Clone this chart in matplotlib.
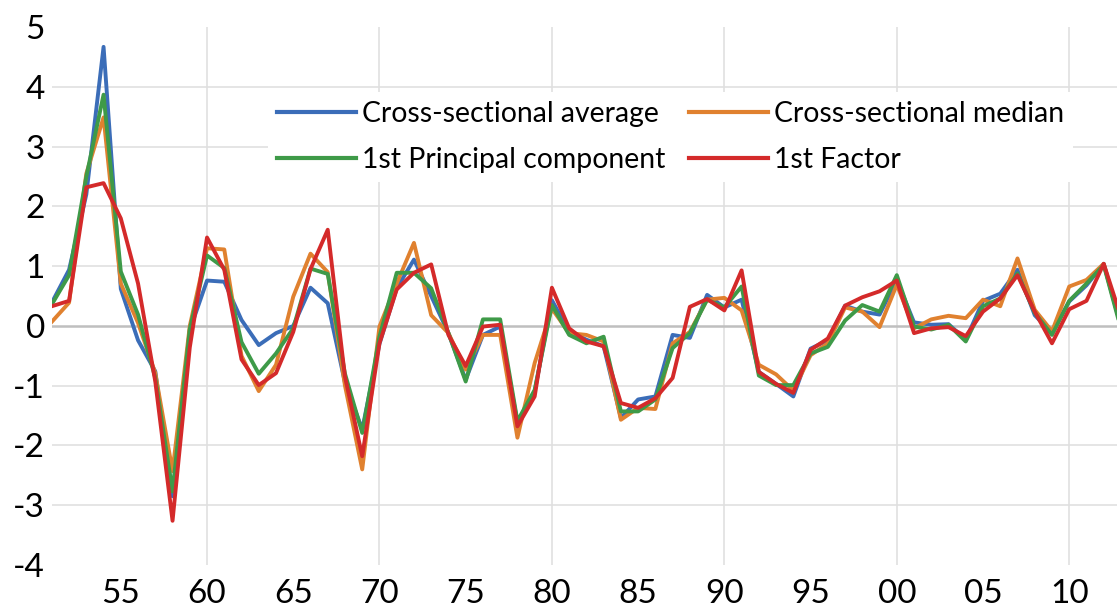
import numpy as np
import matplotlib
matplotlib.use('Agg')
import matplotlib.pyplot as plt

plt.rcParams['font.family'] = ['Lato', 'DejaVu Sans']
plt.rcParams['axes.unicode_minus'] = False

years = np.arange(1951, 2014)

# cross-sectional average
avg = [0.39, 0.94, 2.2, 4.67, 0.62, -0.24, -0.76, -2.85, -0.07, 0.76,
       0.74, 0.1, -0.32, -0.12, 0.0, 0.64, 0.38, -0.95, -1.73, -0.3,
       0.63, 1.11, 0.5, -0.12, -0.9, -0.15, -0.01, -1.62, -1.1, 0.43,
       -0.09, -0.23, -0.34, -1.54, -1.23, -1.18, -0.15, -0.2, 0.52, 0.31,
       0.44, -0.77, -0.97, -1.18, -0.38, -0.24, 0.34, 0.24, 0.19, 0.77,
       0.06, 0.02, 0.03, -0.23, 0.42, 0.54, 0.94, 0.18, -0.12, 0.41,
       0.68, 1.04, 0.0]

# cross-sectional median
med = [0.07, 0.39, 2.55, 3.49, 0.71, 0.05, -0.79, -2.43, 0.0, 1.3,
       1.28, -0.5, -1.09, -0.65, 0.49, 1.21, 0.9, -1.0, -2.4, -0.01,
       0.71, 1.39, 0.18, -0.12, -0.73, -0.15, -0.15, -1.87, -0.62, 0.29,
       -0.12, -0.15, -0.26, -1.57, -1.37, -1.39, -0.29, -0.1, 0.44, 0.47,
       0.26, -0.65, -0.81, -1.08, -0.49, -0.29, 0.31, 0.24, -0.02, 0.69,
       -0.04, 0.11, 0.17, 0.13, 0.44, 0.33, 1.13, 0.27, -0.09, 0.66,
       0.77, 1.04, 0.0]

# 1st principal component
pc = [0.36, 0.85, 2.5, 3.87, 0.91, 0.19, -0.87, -2.77, -0.05, 1.18,
      0.97, -0.27, -0.8, -0.46, -0.04, 0.96, 0.87, -0.8, -1.79, -0.18,
      0.89, 0.89, 0.63, -0.12, -0.93, 0.11, 0.11, -1.59, -1.07, 0.35,
      -0.15, -0.29, -0.18, -1.43, -1.43, -1.23, -0.37, -0.12, 0.44, 0.31,
      0.66, -0.83, -0.99, -0.99, -0.46, -0.35, 0.09, 0.35, 0.24, 0.85,
      -0.01, -0.06, 0.02, -0.26, 0.33, 0.46, 0.88, 0.22, -0.15, 0.42,
      0.71, 1.02, -0.05]

# 1st factor
fac = [0.33, 0.42, 2.32, 2.39, 1.8, 0.71, -0.93, -3.26, -0.36, 1.48,
       0.94, -0.56, -0.99, -0.79, -0.1, 0.95, 1.61, -0.85, -2.18, -0.29,
       0.61, 0.89, 1.03, -0.15, -0.67, -0.01, 0.02, -1.68, -1.18, 0.64,
       -0.04, -0.26, -0.34, -1.29, -1.37, -1.21, -0.87, 0.32, 0.45, 0.26,
       0.93, -0.77, -0.97, -1.12, -0.4, -0.21, 0.34, 0.48, 0.58, 0.76,
       -0.12, -0.04, -0.02, -0.17, 0.24, 0.46, 0.85, 0.24, -0.29, 0.28,
       0.42, 1.04, 0.15]

tick_years = np.arange(1955, 2011, 5)
tick_labels = ['%02d' % (y % 100) for y in tick_years]

fig = plt.figure(figsize=(11.17, 6.14), dpi=100)
ax = fig.add_axes([0.0464, 0.0798, 0.9536, 0.876])

for y in range(-3, 5):
    if y != 0:
        ax.axhline(y, color='#e0e0e0', lw=1.2, zorder=0)
for x in range(1960, 2011, 10):
    ax.axvline(x, color='#e0e0e0', lw=1.2, zorder=0)
ax.axhline(0, color='#bfbfbf', lw=1.8, zorder=1)

lw = 2.8
ax.plot(years, avg, color='#3b6db8', lw=lw, label='Cross-sectional average')
ax.plot(years, pc, color='#3e9a48', lw=lw, label='1st Principal component', zorder=3)
ax.plot(years, med, color='#e0812f', lw=lw, label='Cross-sectional median', zorder=2.5)
ax.plot(years, fac, color='#d42a2a', lw=lw, label='1st Factor', zorder=4)

ax.set_xlim(1951, 2012.77)
ax.set_ylim(-4, 5)
ax.set_yticks(range(-4, 6))
ax.set_xticks(tick_years)
ax.set_xticklabels(tick_labels)
ax.tick_params(length=0, labelsize=24)
ax.tick_params(axis='x', pad=10)
ax.tick_params(axis='y', pad=5)
for s in ax.spines.values():
    s.set_visible(False)

leg = ax.legend(ncol=2, loc='upper left', bbox_to_anchor=(254 / 1117, 1 - 78 / 614),
                bbox_transform=fig.transFigure, fontsize=20.4, frameon=True,
                handlelength=2.8, handletextpad=0.2, columnspacing=0.85,
                borderpad=0.3, labelspacing=0.73)
leg.get_frame().set_facecolor('white')
leg.get_frame().set_edgecolor('none')
leg.get_frame().set_alpha(1)
leg.get_frame().set_boxstyle('square', pad=0)
leg.set_zorder(5)
for h in leg.get_lines():
    h.set_linewidth(3)

fig.savefig('out.png', dpi=100)
